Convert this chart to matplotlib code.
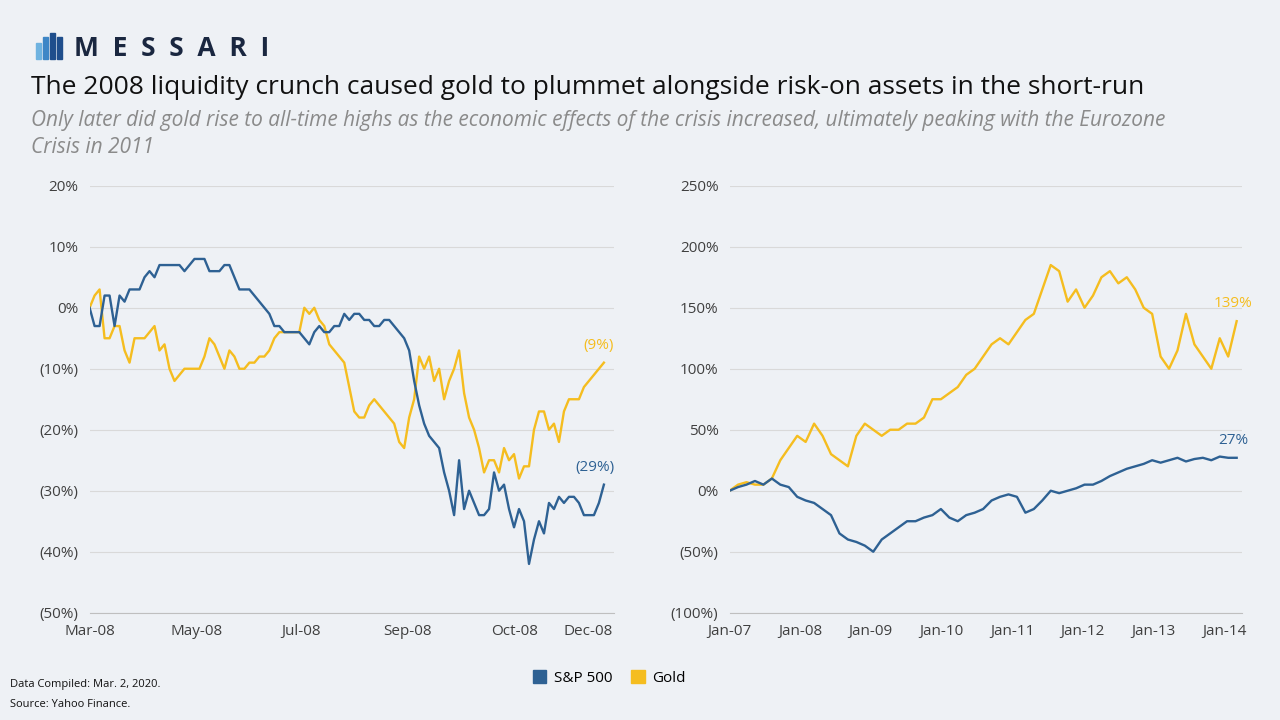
import numpy as np
import matplotlib.pyplot as plt
from matplotlib.patches import Rectangle, Patch

BLUE = "#2e6193"
GOLD = "#f5bd1f"

# Left panel (Mar-08 .. Dec-08), days since Mar 1 2008
left_days_end = 294
sp_left = [0,-3,-3,2,2,-3,2,1,3,3,3,5,6,5,7,7,7,7,7,6,7,8,8,8,6,6,6,7,7,5,3,3,3,2,1,0,-1,-3,-3,-4,
           -4,-4,-4,-5,-6,-4,-3,-4,-4,-3,-3,-1,-2,-1,-1,-2,-2,-3,-3,-2,-2,-3,-4,-5,-7,-12,-16,-19,-21,-22,
           -23,-27,-30,-34,-25,-33,-30,-32,-34,-34,-33,-27,-30,-29,-33,-36,-33,-35,-42,-38,-35,-37,-32,-33,-31,-32,-31,-31,-32,-34,
           -34,-34,-32,-29]
gold_left = [0,2,3,-5,-5,-3,-3,-7,-9,-5,-5,-5,-4,-3,-7,-6,-10,-12,-11,-10,-10,-10,-10,-8,-5,-6,-8,-10,-7,-8,
             -10,-10,-9,-9,-8,-8,-7,-5,-4,-4,-4,-4,-4,0,-1,0,-2,-3,-6,-7,-8,-9,-13,-17,-18,-18,-16,-15,-16,-17,
             -18,-19,-22,-23,-18,-15,-8,-10,-8,-12,-10,-15,-12,-10,-7,-14,-18,-20,-23,-27,-25,-25,-27,-23,-25,-24,-28,-26,-26,-20,
             -17,-17,-20,-19,-22,-17,-15,-15,-15,-13,-12,-11,-10,-9]
left_tick_pos = [0, 61, 121, 182, 243, 285]
left_tick_labels = ["Mar-08", "May-08", "Jul-08", "Sep-08", "Oct-08", "Dec-08"]
left_yticks = [20, 10, 0, -10, -20, -30, -40, -50]

# Right panel (Jan-07 .. Jan-14), years
gold_right = [0,5,7,5,5,10,25,35,45,40,55,45,30,25,20,45,55,50,45,50,50,55,55,60,75,75,80,85,95,100,
              110,120,125,120,130,140,145,165,185,180,155,165,150,160,175,180,170,175,165,150,145,
              110,100,115,145,120,110,100,125,110,139]
sp_right = [0,3,5,8,5,10,5,3,-5,-8,-10,-15,-20,-35,-40,-42,-45,-50,-40,-35,-30,-25,-25,-22,-20,-15,-22,-25,-20,-18,
            -15,-8,-5,-3,-5,-18,-15,-8,0,-2,0,2,5,5,8,12,15,18,20,22,25,
            23,25,27,24,26,27,25,28,27,27]
right_start, right_end = 2007.0, 2014.18
right_ticks = [2007, 2008, 2009, 2010, 2011, 2012, 2013, 2014]
right_tick_labels = ["Jan-07","Jan-08","Jan-09","Jan-10","Jan-11","Jan-12","Jan-13","Jan-14"]
right_yticks = [250, 200, 150, 100, 50, 0, -50, -100]

def pct(v):
    return f"({abs(v)}%)" if v < 0 else f"{v}%"

plt.rcParams["font.family"] = "Open Sans"
fig = plt.figure(figsize=(12.8, 7.2), dpi=100)
fig.patch.set_facecolor("#eef1f5")

# logo
for i, (h, c) in enumerate([(0.022, "#6fb3e0"), (0.030, "#3d86c6"), (0.036, "#1f4e8c"), (0.030, "#1f4e8c")]):
    fig.patches.append(Rectangle((0.028 + i*0.0055, 0.918), 0.004, h, transform=fig.transFigure,
                                 color=c, zorder=5))
fig.text(0.058, 0.933, "M  E  S  S  A  R  I", fontsize=19, fontweight="bold", color="#1a2740", va="center")
fig.text(0.024, 0.878, "The 2008 liquidity crunch caused gold to plummet alongside risk-on assets in the short-run",
         fontsize=19, color="#111111", va="center")
fig.text(0.024, 0.833, "Only later did gold rise to all-time highs as the economic effects of the crisis increased, ultimately peaking with the Eurozone",
         fontsize=15, color="#8a8a8a", style="italic", va="center")
fig.text(0.024, 0.795, "Crisis in 2011", fontsize=15, color="#8a8a8a", style="italic", va="center")

def style(ax, yt, ylim):
    ax.set_facecolor("none")
    for s in ["top", "right", "left"]:
        ax.spines[s].set_visible(False)
    ax.spines["bottom"].set_color("#bfbfbf")
    ax.set_yticks(yt)
    ax.set_yticklabels([pct(v) for v in yt], fontsize=11, color="#404040")
    ax.set_ylim(*ylim)
    ax.grid(axis="y", color="#d9d9d9", lw=0.8)
    ax.set_axisbelow(True)
    ax.tick_params(length=0, pad=8)

axL = fig.add_axes([0.070, 0.149, 0.410, 0.593])
axL.plot(np.linspace(0, left_days_end, len(gold_left)), gold_left, color=GOLD, lw=1.7)
axL.plot(np.linspace(0, left_days_end, len(sp_left)), sp_left, color=BLUE, lw=1.7)
style(axL, left_yticks, (-50, 20))
axL.set_xlim(0, 300)
axL.set_xticks(left_tick_pos)
axL.set_xticklabels(left_tick_labels, fontsize=11, color="#404040")
axL.text(left_days_end - 3, gold_left[-1] + 1.5, pct(gold_left[-1]), color=GOLD, fontsize=11, ha="center", va="bottom")
axL.text(left_days_end - 5, sp_left[-1] + 1.5, pct(sp_left[-1]), color=BLUE, fontsize=11, ha="center", va="bottom")

axR = fig.add_axes([0.570, 0.149, 0.400, 0.593])
axR.plot(np.linspace(right_start, right_end, len(gold_right)), gold_right, color=GOLD, lw=1.7)
axR.plot(np.linspace(right_start, right_end, len(sp_right)), sp_right, color=BLUE, lw=1.7)
style(axR, right_yticks, (-100, 250))
axR.set_xlim(2007, 2014.25)
axR.set_xticks(right_ticks)
axR.set_xticklabels(right_tick_labels, fontsize=11, color="#404040")
axR.text(right_end - 0.05, gold_right[-1] + 8, pct(gold_right[-1]), color=GOLD, fontsize=11, ha="center", va="bottom")
axR.text(right_end - 0.05, sp_right[-1] + 8, pct(sp_right[-1]), color=BLUE, fontsize=11, ha="center", va="bottom")

fig.legend(handles=[Patch(color=BLUE, label="S&P 500"), Patch(color=GOLD, label="Gold")],
           loc="center", bbox_to_anchor=(0.476, 0.058), ncol=2, frameon=False, fontsize=11,
           handlelength=0.9, handleheight=0.9, columnspacing=1.2, handletextpad=0.5)
fig.text(0.008, 0.046, "Data Compiled: Mar. 2, 2020.", fontsize=8, color="#111111")
fig.text(0.008, 0.018, "Source: Yahoo Finance.", fontsize=8, color="#111111")

fig.savefig("out.png", dpi=100, facecolor=fig.get_facecolor())
